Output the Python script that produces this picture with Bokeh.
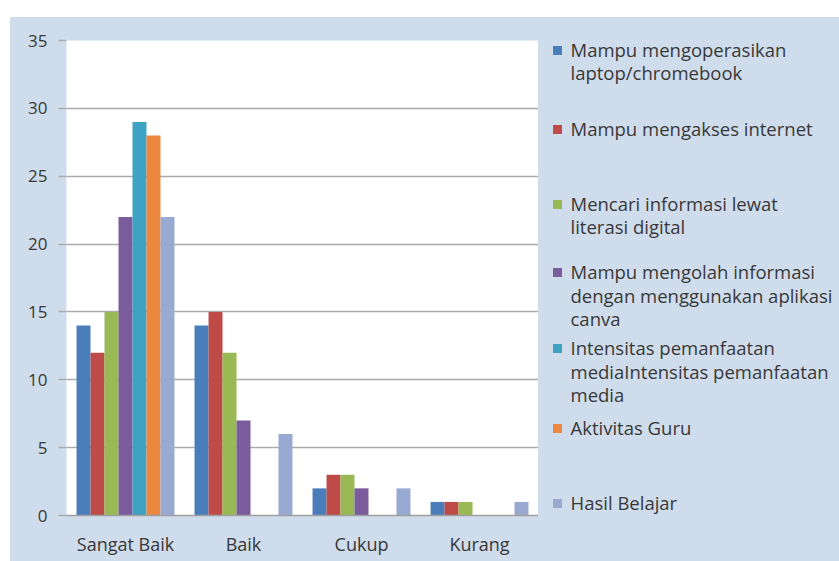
from bokeh.plotting import figure
from bokeh.layouts import row
from bokeh.models import ColumnDataSource, FactorRange, Range1d, FixedTicker
from bokeh.core.properties import value
from bokeh.transform import dodge
from bokeh.embed import file_html
from bokeh.resources import INLINE

categories = ["Sangat Baik", "Baik", "Cukup", "Kurang"]
series_names = [
    "Mampu mengoperasikan\nlaptop/chromebook",
    "Mampu mengakses internet",
    "Mencari informasi lewat\nliterasi digital",
    "Mampu mengolah informasi\ndengan menggunakan aplikasi\ncanva",
    "Intensitas pemanfaatan\nmediaIntensitas pemanfaatan\nmedia",
    "Aktivitas Guru",
    "Hasil Belajar",
]
mampu_operasi = [14, 14, 2, 1]
mampu_akses = [12, 15, 3, 1]
mencari_info = [15, 12, 3, 1]
mampu_olah = [22, 7, 2, 0]
intensitas = [29, 0, 0, 0]
aktivitas_guru = [28, 0, 0, 0]
hasil_belajar = [22, 6, 2, 1]
y_ticks = [0, 5, 10, 15, 20, 25, 30, 35]

series_values = [mampu_operasi, mampu_akses, mencari_info, mampu_olah,
                 intensitas, aktivitas_guru, hasil_belajar]
colors = ["#4a7ebb", "#be4b48", "#98b954", "#7b5c9c", "#3ea2c2", "#eb873e", "#98a9d2"]

data = {"cat": categories}
for i, v in enumerate(series_values):
    data[f"s{i}"] = v
source = ColumnDataSource(data)

BG = "#cfdcec"
FONT = "Open Sans"
TXT = "#383838"

# ---- main chart ----
p = figure(x_range=FactorRange(*categories, range_padding=0), y_range=Range1d(0, 35),
           width=528, height=544, output_backend="svg", toolbar_location=None,
           min_border_left=56, min_border_right=0, min_border_top=23, min_border_bottom=46)
p.border_fill_color = BG
p.background_fill_color = "white"
p.outline_line_color = None

bw = 0.83 / 7
for i in range(7):
    p.vbar(x=dodge("cat", (i - 3) * bw, range=p.x_range), top=f"s{i}", width=bw,
           source=source, fill_color=colors[i], line_color=None)

p.yaxis.ticker = FixedTicker(ticks=y_ticks)
p.ygrid.grid_line_color = "#ababab"
p.ygrid.grid_line_width = 1.5
p.xgrid.grid_line_color = None
p.yaxis.axis_line_color = None
p.yaxis.major_tick_line_color = "#ababab"
p.yaxis.major_tick_line_width = 1.5
p.yaxis.major_tick_out = 8
p.yaxis.major_tick_in = 0
p.yaxis.minor_tick_line_color = None
p.yaxis.major_label_standoff = 11
p.xaxis.axis_line_color = "#a0a0a0"
p.xaxis.axis_line_width = 1.5
p.xaxis.major_tick_line_color = None
p.xaxis.major_label_standoff = 10
for ax in (p.xaxis, p.yaxis):
    ax.major_label_text_font = FONT
    ax.major_label_text_color = TXT
p.yaxis.major_label_text_font_size = "17px"
p.xaxis.major_label_text_font_size = "18px"

# ---- legend panel (frame aligned with the chart frame; coordinates = page pixels) ----
leg = figure(x_range=Range1d(538, 839), y_range=Range1d(515, 40),
             width=301, height=544, output_backend="svg", toolbar_location=None,
             min_border=0, x_axis_location=None, y_axis_location=None)
leg.border_fill_color = BG
leg.background_fill_color = BG
leg.outline_line_color = None
leg.grid.grid_line_color = None

entry_lines_y = [[49, 72], [128], [203, 226], [271, 295, 318],
                 [347, 371, 394], [427], [502]]
sq_x, sq_y, sq_c = [], [], []
tx, ty, tt = [], [], []
for i, name in enumerate(series_names):
    ys = entry_lines_y[i]
    sq_x.append(557)
    sq_y.append(ys[0] + 1)
    sq_c.append(colors[i])
    for ln, yy in zip(name.split("\n"), ys):
        tx.append(570)
        ty.append(yy)
        tt.append(ln)
leg.scatter(x=sq_x, y=sq_y, marker="square", size=9, fill_color=sq_c, line_color=None)
leg.text(x=tx, y=ty, text=tt, text_font=value(FONT), text_font_size="18.5px",
         text_color=TXT, text_baseline="middle", text_align="left")

layout = row(p, leg, spacing=0)
layout.margin = (17, 0, 0, 10)
layout.styles = {"background-color": BG}
open("out.html", "w").write(file_html(layout, INLINE))
